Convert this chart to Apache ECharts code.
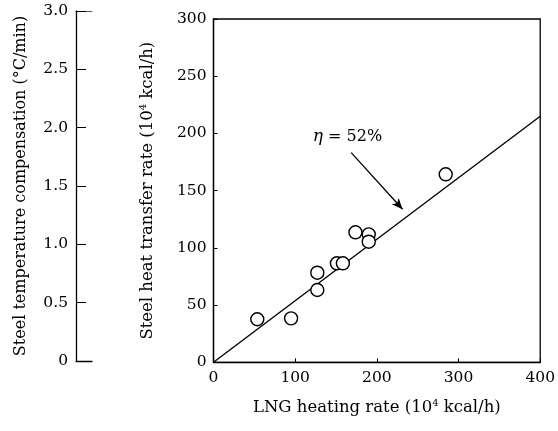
<!DOCTYPE html>
<html>
<head>
<meta charset="utf-8">
<script src="https://cdn.jsdelivr.net/npm/echarts@6/dist/echarts.min.js"></script>
<style>
  html, body { margin: 0; padding: 0; background: #fff; }
  #chart { width: 558px; height: 431px; }
</style>
</head>
<body>
<div id="chart"></div>
<script>
// measured points (LNG heating rate vs steel heat transfer rate, 10^4 kcal/h)
const lngRate   = [53.6, 95.0, 127.1, 127.1, 151.1, 158.4, 173.8, 190.1, 190.1, 284.3];
const heatRate  = [37.6, 38.4, 63.2, 78.3, 86.5, 86.5, 113.6, 111.8, 105.4, 164.3];
// efficiency line eta = 52%
const fitX = [0, 400];
const fitY = [0, 215];
// annotation: arrow start/end and label position (data coords)
const arrowFrom = [168.6, 183.2];
const arrowTo   = [231.5, 133.7];
const etaLabelAt = [164, 197];

const font = 'DejaVu Serif';
const black = '#000';

const chart = echarts.init(document.getElementById('chart'));

const supStyle = { fontFamily: font, fontSize: 10, verticalAlign: 'top', padding: [0, 0, 8, 0], color: black };

chart.setOption({
  backgroundColor: '#fff',
  animation: false,
  textStyle: { fontFamily: font, color: black },
  grid: [
    // left-hand compensation scale
    { left: 76, top: 11, bottom: 70, width: 16 },
    // main plot
    { left: 213.5, right: 16.3, top: 19, bottom: 68.7, show: true, borderColor: black, borderWidth: 1.3 }
  ],
  xAxis: [
    {
      gridIndex: 0, type: 'value', min: 0, max: 1, position: 'bottom',
      axisLine: { show: true, onZero: false, lineStyle: { color: black, width: 1.3 } },
      axisTick: { show: false }, axisLabel: { show: false }, splitLine: { show: false }
    },
    {
      gridIndex: 0, type: 'value', min: 0, max: 1, position: 'top',
      axisLine: { show: true, onZero: false, lineStyle: { color: '#555', width: 1 } },
      axisTick: { show: false }, axisLabel: { show: false }, splitLine: { show: false }
    },
    {
      gridIndex: 1, type: 'value', min: 0, max: 400, interval: 100,
      name: 'LNG heating rate (10{sup|4} kcal/h)',
      nameLocation: 'middle', nameGap: 36,
      nameTextStyle: { fontFamily: font, fontSize: 16.5, color: black, rich: { sup: supStyle } },
      axisLine: { onZero: false, lineStyle: { color: black, width: 1.3 } },
      axisTick: { inside: true, length: 4, lineStyle: { color: black } },
      axisLabel: { fontFamily: font, fontSize: 15.5, color: black, margin: 8 },
      splitLine: { show: false }
    }
  ],
  yAxis: [
    {
      gridIndex: 0, type: 'value', min: 0, max: 3, interval: 0.5,
      name: 'Steel temperature compensation (°C/min)',
      nameLocation: 'middle', nameGap: 47, nameRotate: 90,
      nameTextStyle: { fontFamily: font, fontSize: 16, color: black },
      axisLine: { show: true, onZero: false, lineStyle: { color: black, width: 1.3 } },
      axisTick: { show: true, inside: true, length: 10, lineStyle: { color: black } },
      axisLabel: {
        fontFamily: font, fontSize: 15.5, color: black, margin: 8,
        formatter: v => (v === 0 ? '0' : v.toFixed(1))
      },
      splitLine: { show: false }
    },
    {
      gridIndex: 1, type: 'value', min: 0, max: 300, interval: 50,
      name: 'Steel heat transfer rate (10{sup|4} kcal/h)',
      nameLocation: 'middle', nameGap: 57, nameRotate: 90,
      nameTextStyle: { fontFamily: font, fontSize: 16.5, color: black, rich: { sup: supStyle } },
      axisLine: { show: true, onZero: false, lineStyle: { color: black, width: 1.3 } },
      axisTick: { show: true, inside: true, length: 4, lineStyle: { color: black } },
      axisLabel: { fontFamily: font, fontSize: 15.5, color: black, margin: 7 },
      splitLine: { show: false }
    }
  ],
  series: [
    {
      name: 'eta',
      type: 'line',
      xAxisIndex: 2, yAxisIndex: 1,
      data: fitX.map((x, i) => [x, fitY[i]]),
      showSymbol: false,
      lineStyle: { color: black, width: 1.4 },
      markLine: {
        silent: true,
        symbol: ['none', 'arrow'],
        symbolSize: [7, 11],
        lineStyle: { color: black, width: 1.3, type: 'solid' },
        label: { show: false },
        data: [[{ coord: arrowFrom }, { coord: arrowTo }]]
      },
      markPoint: {
        silent: true,
        symbol: 'circle', symbolSize: 1,
        itemStyle: { color: 'rgba(0,0,0,0)' },
        label: {
          show: true, position: 'inside',
          formatter: '{eta|η} = 52%',
          fontFamily: font, fontSize: 16, color: black,
          rich: { eta: { fontFamily: font, fontStyle: 'italic', fontSize: 17, color: black } }
        },
        data: [{ coord: etaLabelAt }]
      }
    },
    {
      name: 'measured',
      type: 'scatter',
      xAxisIndex: 2, yAxisIndex: 1,
      data: lngRate.map((x, i) => [x, heatRate[i]]),
      symbol: 'circle',
      symbolSize: 13,
      itemStyle: { color: '#fff', borderColor: black, borderWidth: 1.4, opacity: 1 },
      z: 3
    }
  ]
});
</script>
</body>
</html>
